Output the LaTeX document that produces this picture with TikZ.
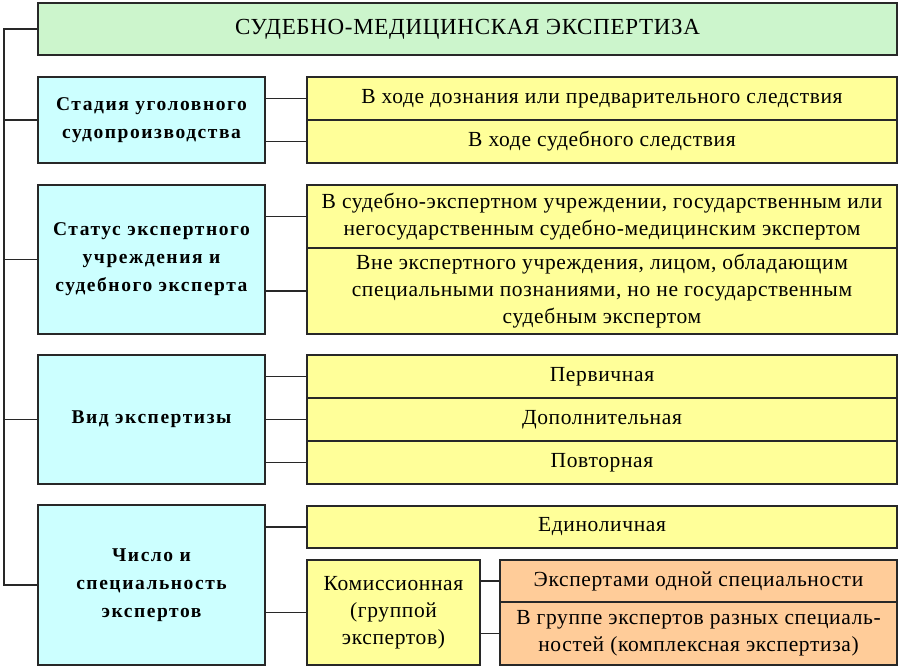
\documentclass[tikz,border=0pt]{standalone}
\usepackage{fontspec}
\setmainfont{Liberation Serif}
\newfontfamily\itemfont[LetterSpace=3]{Liberation Serif}
\newfontfamily\headfont[LetterSpace=8]{Liberation Serif}
\usepackage{tikz}
\usetikzlibrary{positioning,calc}

\definecolor{titlegreen}{RGB}{204,245,204}
\definecolor{stageblue}{RGB}{204,255,255}
\definecolor{itemyellow}{RGB}{255,255,153}
\definecolor{subpeach}{RGB}{255,204,153}
\definecolor{edgegray}{RGB}{40,40,40}

\begin{document}
\begin{tikzpicture}[x=1pt,y=-1pt,
  box/.style={draw=edgegray, line width=1.5pt, rectangle, inner sep=0pt, align=center},
  titlebox/.style={box, fill=titlegreen, minimum width=859pt, minimum height=52pt,
    font=\itemfont\fontsize{23}{27}\selectfont},
  groupbox/.style={box, fill=stageblue, minimum width=227pt,
    font=\headfont\bfseries\fontsize{19.5}{28}\selectfont},
  itembox/.style={box, fill=itemyellow, minimum width=590pt,
    font=\itemfont\fontsize{21.5}{27}\selectfont},
  subbox/.style={box, fill=subpeach, minimum width=397pt,
    font=\itemfont\fontsize{21.5}{27}\selectfont},
  link/.style={draw=edgegray, line width=1.5pt}]
\useasboundingbox[fill=white] (0,0) rectangle (900,669);

% Title
\node[titlebox] (title) at (467.5,29) {СУДЕБНО-МЕДИЦИНСКАЯ ЭКСПЕРТИЗА};

% Groups
\node[groupbox, minimum height=86pt] (stage) at (151.5,120) {Стадия уголовного\\судопроизводства};
\node[groupbox, minimum height=149pt] (status) at (151.5,259.5) {Статус экспертного\\учреждения и\\судебного эксперта};
\node[groupbox, minimum height=129pt] (kind) at (151.5,419.5) {Вид экспертизы};
\node[groupbox, minimum height=160pt] (count) at (151.5,585) {Число и\\специальность\\экспертов};

% Items
\node[itembox, minimum height=43pt] (stageA) at (602,98.5) {В ходе дознания или предварительного следствия};
\node[itembox, minimum height=43pt] (stageB) at (602,141.5) {В ходе судебного следствия};

\node[itembox, minimum height=63pt] (statusA) at (602,216.5) {В судебно-экспертном учреждении, государственным или\\негосударственным судебно-медицинским экспертом};
\node[itembox, minimum height=86pt] (statusB) at (602,291) {Вне экспертного учреждения, лицом, обладающим\\специальными познаниями, но не государственным\\судебным экспертом};

\node[itembox, minimum height=43pt] (kindA) at (602,376.5) {Первичная};
\node[itembox, minimum height=43pt] (kindB) at (602,419.5) {Дополнительная};
\node[itembox, minimum height=43pt] (kindC) at (602,462.5) {Повторная};

\node[itembox, minimum height=42pt] (countA) at (602,527) {Единоличная};
\node[itembox, minimum width=173pt, minimum height=105pt] (countB) at (393.5,612.5) {Комиссионная\\(группой\\экспертов)};

\node[subbox, minimum height=42pt] (commA) at (698.5,581) {Экспертами одной специальности};
\node[subbox, minimum height=63pt] (commB) at (698.5,633.5) {В группе экспертов разных специаль-\\ностей (комплексная экспертиза)};

% Spine
\coordinate (spine) at (4,0);
\draw[link] (title.west) -- (title.west -| spine) -- (count.west -| spine) -- (count.west);
\foreach \g in {stage,status,kind}
  \draw[link] (\g.west -| spine) -- (\g.west);

% Group to item connectors
\foreach \g/\i in {stage/stageA, stage/stageB, status/statusA, status/statusB,
                   kind/kindA, kind/kindB, kind/kindC, count/countA, count/countB}
  \draw[link] (\i.west -| \g.east) -- (\i.west);
\foreach \i in {commA,commB}
  \draw[link] (\i.west -| countB.east) -- (\i.west);
\end{tikzpicture}
\end{document}
